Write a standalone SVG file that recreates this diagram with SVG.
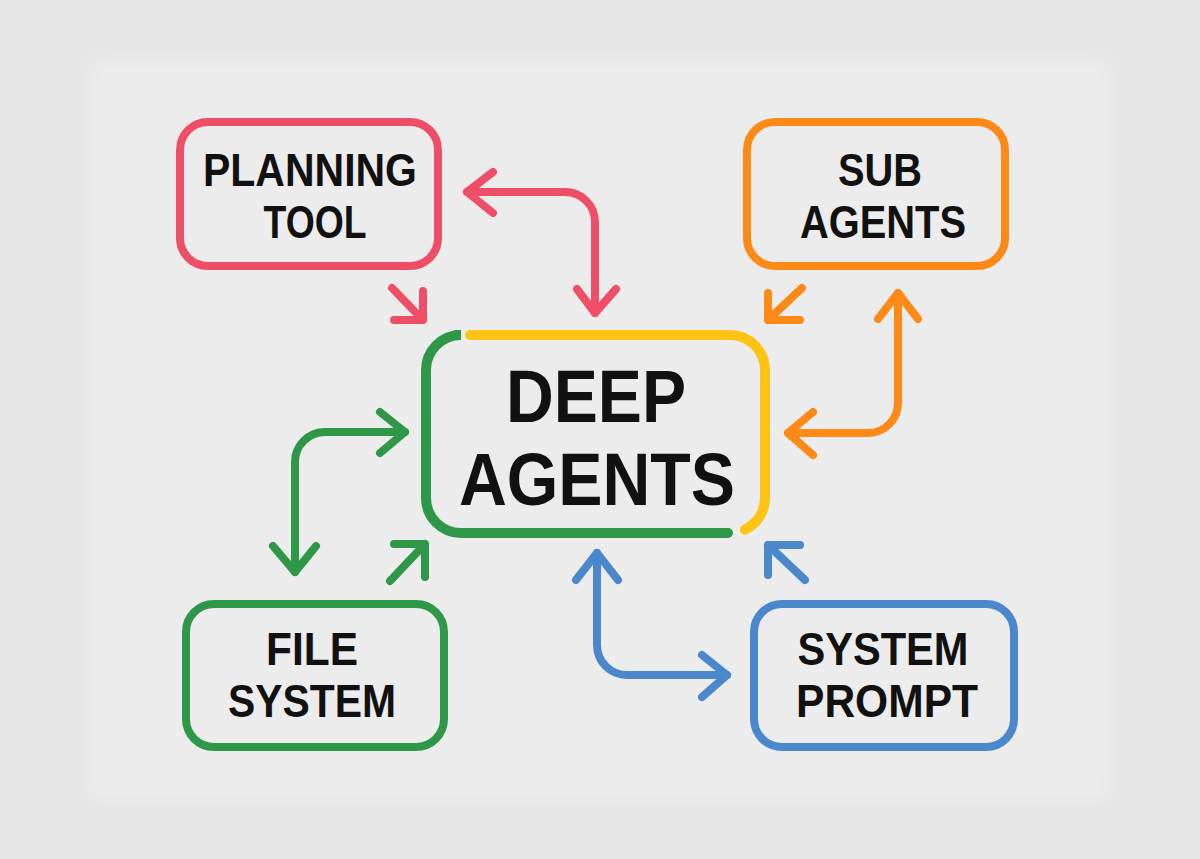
<svg xmlns="http://www.w3.org/2000/svg" width="1200" height="859" viewBox="0 0 1200 859">
<style>
.box{fill:none;stroke-width:8;}
.lbl{font-family:"Liberation Sans",Arial,sans-serif;font-weight:bold;fill:#111;text-anchor:middle;}
.s{font-size:46px;}
.b{font-size:74px;}
.arr{fill:none;stroke-width:8;stroke-linecap:round;stroke-linejoin:round;}
.red{stroke:#ef4f66;}
.org{stroke:#fd8a17;}
.grn{stroke:#2f9748;}
.blu{stroke:#4a87cb;}
</style>
<defs>
<filter id="soft" x="-10%" y="-10%" width="120%" height="120%"><feGaussianBlur stdDeviation="8"/></filter>
</defs>
<rect width="1200" height="859" fill="#e6e6e6"/>
<rect x="90" y="60" width="1020" height="740" fill="#ececec" filter="url(#soft)"/>

<g id="connectors">
<!-- red -->
<path class="arr red" d="M467,192 L565,192 A30,30 0 0 1 595,222 L595,313"/>
<path class="arr red" d="M493,172 L467,192 L493,213"/>
<path class="arr red" d="M577,289 L595,313 L616,289"/>
<path class="arr red" d="M392,288 L423,320 M423,291 L423,320 L394,320"/>
<!-- orange -->
<path class="arr org" d="M898,293 L898,403 A30,30 0 0 1 868,433 L788,433"/>
<path class="arr org" d="M878,319 L898,293 L918,319"/>
<path class="arr org" d="M813,412 L788,433 L813,455"/>
<path class="arr org" d="M802,288 L768,320 M768,293 L768,320 L800,320"/>
<!-- green -->
<path class="arr grn" d="M405,432 L325,432 A30,30 0 0 0 295,462 L295,572"/>
<path class="arr grn" d="M380,412 L405,432 L380,453"/>
<path class="arr grn" d="M273,546 L295,572 L316,546"/>
<path class="arr grn" d="M390,581 L425,544 M394,544 L425,544 L425,577"/>
<!-- blue -->
<path class="arr blu" d="M597,553 L597,645 A30,30 0 0 0 627,675 L727,675"/>
<path class="arr blu" d="M576,580 L597,553 L618,580"/>
<path class="arr blu" d="M702,655 L727,675 L702,697"/>
<path class="arr blu" d="M805,580 L768,545 M800,545 L768,545 L768,575"/>
</g>

<g id="deep-agents">
<path fill="none" stroke="#2f9748" stroke-width="10" stroke-linecap="round" d="M456,335 L461,335 A35,35 0 0 0 426,370 L426,498 A35,35 0 0 0 461,533 L728,533"/>
<path fill="none" stroke="#fdc414" stroke-width="10" stroke-linecap="round" d="M470,335 L730,335 A35,35 0 0 1 765,370 L765,498 A35,35 0 0 1 744.8,529.7"/>
<text class="lbl b" x="596" y="422" textLength="180" lengthAdjust="spacingAndGlyphs">DEEP</text>
<text class="lbl b" x="597" y="505" textLength="276" lengthAdjust="spacingAndGlyphs">AGENTS</text>
</g>

<g id="planning-tool">
<rect class="box" x="180" y="122" width="258" height="144" rx="28" stroke="#ef4f66"/>
<text class="lbl s" x="310" y="186" textLength="214" lengthAdjust="spacingAndGlyphs">PLANNING</text>
<text class="lbl s" x="315" y="238" textLength="103" lengthAdjust="spacingAndGlyphs">TOOL</text>
</g>

<g id="sub-agents">
<rect class="box" x="747" y="122" width="258" height="144" rx="28" stroke="#fd8a17"/>
<text class="lbl s" x="880" y="186" textLength="84" lengthAdjust="spacingAndGlyphs">SUB</text>
<text class="lbl s" x="883" y="238" textLength="166" lengthAdjust="spacingAndGlyphs">AGENTS</text>
</g>

<g id="file-system">
<rect class="box" x="186" y="604" width="258" height="143" rx="28" stroke="#2f9748"/>
<text class="lbl s" x="312" y="665" textLength="92" lengthAdjust="spacingAndGlyphs">FILE</text>
<text class="lbl s" x="312" y="717" textLength="168" lengthAdjust="spacingAndGlyphs">SYSTEM</text>
</g>

<g id="system-prompt">
<rect class="box" x="754" y="604" width="260" height="143" rx="28" stroke="#4a87cb"/>
<text class="lbl s" x="883" y="665" textLength="171" lengthAdjust="spacingAndGlyphs">SYSTEM</text>
<text class="lbl s" x="887" y="717" textLength="182" lengthAdjust="spacingAndGlyphs">PROMPT</text>
</g>
</svg>
